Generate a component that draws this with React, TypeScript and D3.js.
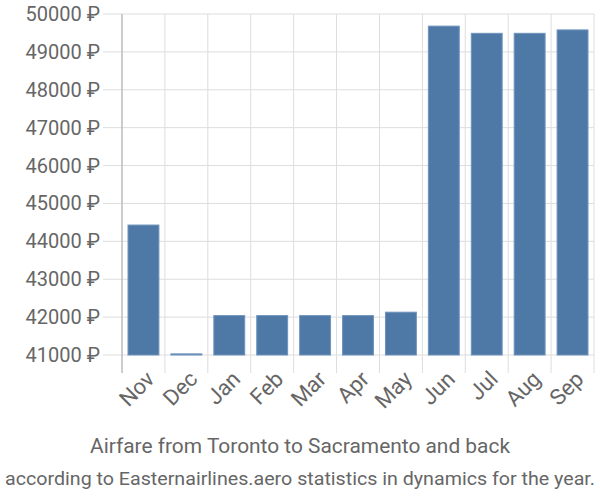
import { useEffect, useRef } from 'react'
import * as d3 from 'd3'

const MONTHS = ['Nov', 'Dec', 'Jan', 'Feb', 'Mar', 'Apr', 'May', 'Jun', 'Jul', 'Aug', 'Sep']
const PRICES = [44430, 41030, 42040, 42040, 42040, 42040, 42130, 49680, 49490, 49490, 49580]
const Y_TICKS = [41000, 42000, 43000, 44000, 45000, 46000, 47000, 48000, 49000, 50000]

const TITLE = 'Airfare from Toronto to Sacramento and back'
const SUBTITLE = 'according to Easternairlines.aero statistics in dynamics for the year.'

const W = 600
const H = 500
const PLOT = { left: 122, right: 594, top: 14, bottom: 355 }
const FONT = 'Roboto, "Liberation Sans", sans-serif'

export default function App() {
  const svgRef = useRef<SVGSVGElement>(null)

  useEffect(() => {
    const svgEl = svgRef.current
    if (!svgEl) return
    const svg = d3.select(svgEl)
    svg.selectAll('*').remove()

    const x = d3.scaleBand<string>().domain(MONTHS).range([PLOT.left, PLOT.right]).paddingInner(0.28).paddingOuter(0.14)
    const xGrid = d3.scaleBand<string>().domain(MONTHS).range([PLOT.left, PLOT.right]).padding(0)
    const y = d3.scaleLinear([41000, 50000], [PLOT.bottom, PLOT.top])

    // ── Grid ──
    const g = svg.append('g')
    g.selectAll('line.h').data(Y_TICKS).join('line')
      .attr('x1', PLOT.left - 19).attr('x2', PLOT.right)
      .attr('y1', d => y(d)).attr('y2', d => y(d))
      .attr('stroke', '#dddddd').attr('stroke-width', 1)

    const vLines = [...MONTHS.map(m => xGrid(m)!), PLOT.right]
    g.selectAll('line.v').data(vLines).join('line')
      .attr('x1', d => d).attr('x2', d => d)
      .attr('y1', PLOT.top).attr('y2', PLOT.bottom + 18)
      .attr('stroke', '#dddddd').attr('stroke-width', 1)

    // left axis line
    g.append('line')
      .attr('x1', PLOT.left).attr('x2', PLOT.left)
      .attr('y1', PLOT.top).attr('y2', PLOT.bottom + 18)
      .attr('stroke', '#aaaaaa').attr('stroke-width', 1)

    // ── Bars ──
    svg.append('g').selectAll('rect').data(PRICES).join('rect')
      .attr('x', (_, i) => x(MONTHS[i])!)
      .attr('width', x.bandwidth())
      .attr('y', d => y(d))
      .attr('height', d => y(41000) - y(d))
      .attr('fill', '#4e79a7')
      .attr('stroke', '#6f93bd').attr('stroke-width', 1)

    // ── Y labels ──
    svg.append('g').selectAll('text').data(Y_TICKS).join('text')
      .attr('x', PLOT.left - 22).attr('y', d => y(d)).attr('dy', '0.35em')
      .attr('text-anchor', 'end').attr('font-family', FONT).attr('font-size', 20)
      .attr('fill', '#666666')
      .text(d => `${d} ₽`)

    // ── X labels ──
    svg.append('g').selectAll('text').data(MONTHS).join('text')
      .attr('transform', d => `translate(${xGrid(d)! + xGrid.bandwidth() / 2 + 7},${PLOT.bottom + 20}) rotate(-45)`)
      .attr('dy', '0.35em')
      .attr('text-anchor', 'end').attr('font-family', FONT).attr('font-size', 22)
      .attr('fill', '#666666')
      .text(d => d)

    // ── Titles ──
    svg.append('text')
      .attr('x', W / 2).attr('y', 453)
      .attr('text-anchor', 'middle').attr('font-family', FONT).attr('font-size', 21)
      .attr('fill', '#666666')
      .attr('textLength', 420).attr('lengthAdjust', 'spacingAndGlyphs')
      .text(TITLE)

    svg.append('text')
      .attr('x', W / 2).attr('y', 485)
      .attr('text-anchor', 'middle').attr('font-family', FONT).attr('font-size', 18)
      .attr('fill', '#666666')
      .attr('textLength', 590).attr('lengthAdjust', 'spacingAndGlyphs')
      .text(SUBTITLE)
  }, [])

  return (
    <svg
      ref={svgRef}
      width={W}
      height={H}
      style={{ position: 'absolute', left: 0, top: 0, background: '#ffffff' }}
    />
  )
}
